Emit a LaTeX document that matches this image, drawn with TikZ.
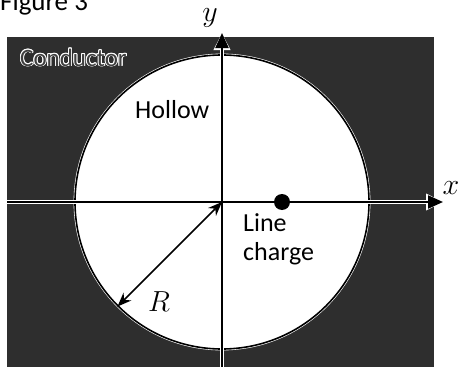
\documentclass[tikz,border=0pt]{standalone}
\usepackage{fix-cm}
\usepackage{fontspec}
\setsansfont{Carlito}
\usetikzlibrary{arrows.meta,calc}

\begin{document}
\begin{tikzpicture}[x=1pt,y=-1pt,
  axis/.style={line width=2.2pt,-{Triangle[length=15pt,width=13pt]}},
  halo/.style={white,line width=3.8pt,-{Triangle[length=17pt,width=16pt]}},
  word/.style={inner sep=0pt,anchor=base west,font=\sffamily\fontsize{26}{29}\selectfont},
  letter/.style={inner sep=0pt,font=\fontsize{30}{30}\selectfont}]
  \useasboundingbox (0,0) rectangle (459,367);

  % conductor with hollow
  \fill[black!82] (7,37) rectangle (434,367);
  \draw[white,line width=2.8pt] (222,202) circle (147);
  \node[circle,fill=white,draw,line width=1.6pt,minimum size=294pt,inner sep=0pt] (hole) at (222,202) {};

  % axes
  \coordinate (o) at (222,202);
  \coordinate (xl) at (7,202);
  \coordinate (xr) at (443,202);
  \coordinate (yb) at (222,367);
  \coordinate (yt) at (222,33);
  \draw[halo] (xl) -- (xr);
  \draw[halo] (yb) -- (yt);
  \draw[axis] (xl) -- (xr);
  \draw[axis] (yb) -- (yt);
  \node[letter] (xlab) at (451,188) {$x$};
  \node[letter] (ylab) at (210,18) {$y$};

  % line charge and radius
  \node[circle,fill,inner sep=0pt,minimum size=16pt] (dot) at (282,202) {};
  \draw[line width=1.6pt,{Stealth[length=14pt,width=11pt]}-{Stealth[length=14pt,width=11pt]}] (o) -- (hole.225);
  \node[letter,font=\fontsize{29}{29}\selectfont] (rlab) at (159,302) {$R$};

  % texts
  \node[word,font=\sffamily\fontsize{27}{29}\selectfont] (fig) at (0,10) {Figure 3};
  \node[word] (hollow) at (135,118) {Hollow};
  \node[word,align=left] (charge) at (243,260) {Line\\charge};
  \foreach \a in {0,30,...,330}
    \node[word,white,font=\sffamily\fontsize{25}{29}\selectfont] (cond\a) at ($(20,66)+(\a:0.9pt)$) {Conductor};
  \node[word,black!75,font=\sffamily\fontsize{25}{29}\selectfont] (cond) at (20,66) {Conductor};
\end{tikzpicture}
\end{document}
